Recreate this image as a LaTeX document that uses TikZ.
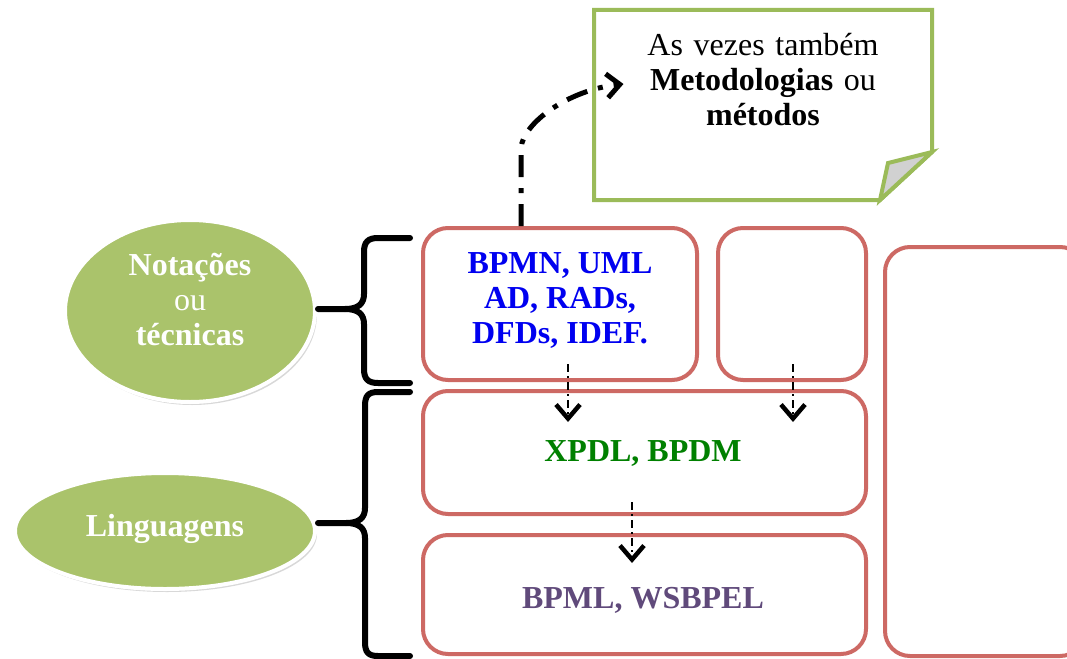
\documentclass[tikz,border=0pt]{standalone}
\usepackage{fontspec}
\setmainfont{Liberation Serif}
\usetikzlibrary{arrows.meta,calc,shapes.geometric,shadows}
\definecolor{boxred}{RGB}{205,105,100}
\definecolor{olive}{RGB}{170,195,107}
\definecolor{noteedge}{RGB}{155,187,89}
\definecolor{txtblue}{RGB}{0,0,240}
\definecolor{txtgreen}{RGB}{0,128,0}
\definecolor{txtpurple}{RGB}{96,74,123}
\tikzset{
  big/.style={font=\fontsize{32}{35}\selectfont, align=center},
  redbox/.style={draw=boxred, line width=4pt, rounded corners=25pt, inner sep=0pt},
  oval/.style={ellipse, fill=olive, draw=white, line width=4pt, inner sep=0pt,
    drop shadow={opacity=0.3, shadow xshift=2pt, shadow yshift=-3pt}},
  brace/.style={line width=6pt, line cap=round, line join=round},
  flow/.style={line width=2pt, dash pattern=on 8pt off 4pt on 2pt off 4pt,
    -{Straight Barb[length=14pt, width=24pt, line width=4.5pt]}},
  bigflow/.style={line width=5pt, dash pattern=on 22pt off 11pt on 5pt off 11pt,
    -{Straight Barb[length=13pt, width=24pt, line width=5pt]}},
}
\begin{document}
\begin{tikzpicture}[x=1pt, y=-1pt]
  \useasboundingbox (0,0) rectangle (1067,658);
  \clip (0,0) rectangle (1067,658);
  \fill[white] (0,0) rectangle (1067,658);

  % note with folded corner
  \draw[noteedge, line width=4pt, line join=miter]
    (594,10) -- (932,10) -- (932,152) -- (880,200) -- (594,200) -- cycle;
  \filldraw[fill=black!18, draw=noteedge, line width=4pt, line join=miter]
    (932,152) -- (888,163) -- (880,200) -- cycle;
  \node[big, text width=330pt] (note) at (763,80)
    {As vezes também\\ \textbf{Metodologias} ou\\ \textbf{métodos}};

  % boxes
  \node[redbox, minimum width=274pt, minimum height=152pt] (b1) at (560,304) {};
  \node[redbox, minimum width=148pt, minimum height=152pt] (b2) at (792,304) {};
  \node[redbox, minimum width=443pt, minimum height=123pt] (b3) at (644.5,452.5) {};
  \node[redbox, minimum width=443pt, minimum height=119pt] (b4) at (644.5,594.5) {};
  \node[redbox, minimum width=200pt, minimum height=409pt] (b5) at (985,451.5) {};

  \node[big, font=\fontsize{32}{35}\selectfont\bfseries, text=txtblue] (t1) at (560,300)
    {BPMN, UML\\ AD, RADs,\\ DFDs, IDEF.};
  \node[big, font=\fontsize{32}{35}\selectfont\bfseries, text=txtgreen] (t3) at (643,453) {XPDL, BPDM};
  \node[big, font=\fontsize{32}{35}\selectfont\bfseries, text=txtpurple] (t4) at (643,600) {BPML, WSBPEL};

  % ovals
  \node[oval, minimum width=250pt, minimum height=182pt] (e1) at (190,311) {};
  \node[big, text=white] (e1t) at (190,300)
    {\textbf{Notações}\\ ou\\ \textbf{técnicas}};
  \node[oval, minimum width=300pt, minimum height=116pt] (e2) at (165,531) {};
  \node[big, text=white, font=\fontsize{32}{35}\selectfont\bfseries] (e2t) at (165,529) {Linguagens};

  % braces
  \coordinate (k1) at (318,309);
  \coordinate (k2) at (318,523);
  \draw[brace] (410,238) -- (378,238) .. controls (368,238) and (364,242) .. (364,252)
    -- (364,294) .. controls (364,304) and (358,309) .. (345,309) -- (k1);
  \draw[brace] (410,383) -- (378,383) .. controls (368,383) and (364,379) .. (364,369)
    -- (364,324) .. controls (364,314) and (358,309) .. (345,309);
  \draw[brace] (410,392) -- (378,392) .. controls (368,392) and (365,396) .. (365,406)
    -- (365,508) .. controls (365,518) and (359,523) .. (346,523) -- (k2);
  \draw[brace] (410,656) -- (378,656) .. controls (368,656) and (365,652) .. (365,642)
    -- (365,538) .. controls (365,528) and (359,523) .. (346,523);

  % connectors
  \coordinate (up) at ($(b1.north)+(-39,-78)$);
  \coordinate (tip) at ($(note.west)+(29,4)$);
  \draw[bigflow] ($(b1.north)+(-39,0)$) -- (up)
    .. controls ($(up)+(2,-25)$) and ($(tip)+(-55,6)$) .. (tip);
  \draw[flow] ($(b1.south)+(8,-18)$) -- ($(b3.north)+(-76.5,33)$);
  \draw[flow] ($(b2.south)+(1,-18)$) -- ($(b3.north)+(148.5,33)$);
  \draw[flow] ($(b3.south)+(-12.5,-14)$) -- ($(b4.north)+(-12.5,30)$);
\end{tikzpicture}
\end{document}
